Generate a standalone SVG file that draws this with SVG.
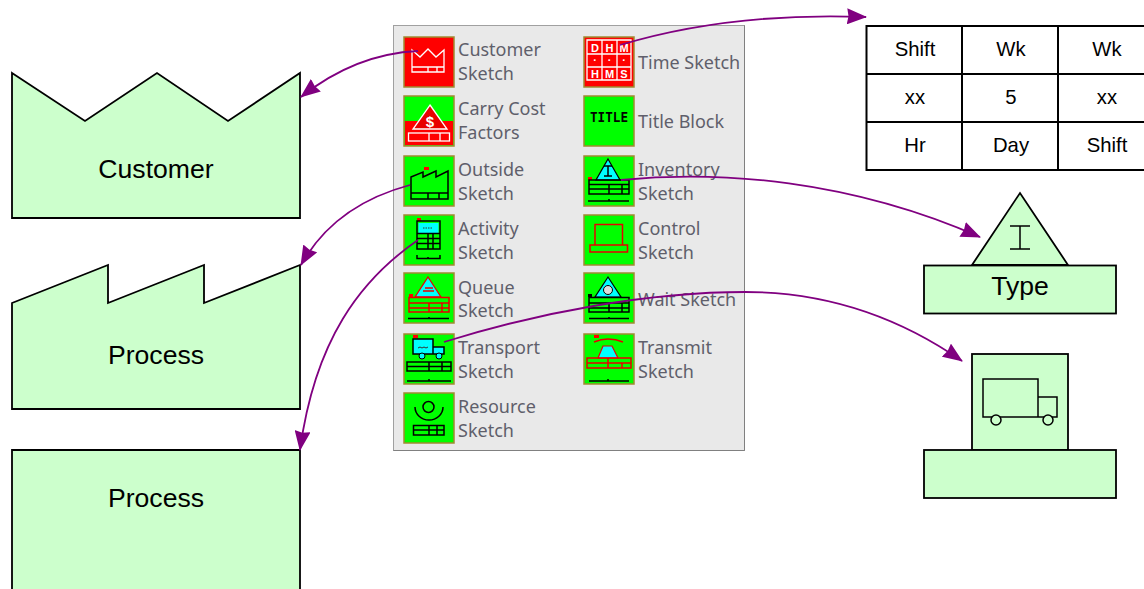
<svg xmlns="http://www.w3.org/2000/svg" width="1144" height="589" viewBox="0 0 1144 589">
<style>
.n{fill:#ccffcc;stroke:#000;stroke-width:1.800}
.l{font-family:"Liberation Sans",Arial,sans-serif;font-size:26.600px;fill:#000;text-anchor:middle}
.c{font-family:"Liberation Sans",Arial,sans-serif;font-size:20.300px;fill:#000;text-anchor:middle}
.t{font-family:"Noto Sans","Open Sans",sans-serif;font-size:18px;fill:#5f5f6b}
.b{stroke:#a08a30;stroke-width:1.500}
.g{fill:#00ff00}.r{fill:#ff0000}
.k{fill:none;stroke:#000;stroke-width:1.500}
.w{fill:none;stroke:#fff;stroke-width:1.300}
.e{fill:none;stroke:#e80000;stroke-width:1.500}
.y{fill:#00ffff}
.a{fill:none;stroke:#800080;stroke-width:1.800;marker-end:url(#ah)}
</style>
<defs>
<marker id="ah" viewBox="0 0 20 16" refX="19" refY="8" markerWidth="20" markerHeight="16" markerUnits="userSpaceOnUse" orient="auto"><path d="M0 0L20 8L0 16L1.500 8Z" fill="#800080"/></marker>
</defs>
<rect id="palette" x="393.500" y="25.500" width="351" height="425" fill="#e9e9e9" stroke="#a0a0a0"/>
<path d="M744.500 25.500V450.500H393.500" fill="none" stroke="#808080"/>

<g id="customer"><path class="n" d="M12 73L85 121L157 73L228 121L300 73V218H12Z"/><text class="l" x="156" y="178">Customer</text></g>
<g id="process-outside"><path class="n" d="M12 303L108 265V303L204 265V303L300 265V409H12Z"/><text class="l" x="156" y="364">Process</text></g>
<g id="process-activity"><path class="n" d="M12 450H300V600H12Z"/><text class="l" x="156" y="507">Process</text></g>

<g id="time-table">
<rect x="866.500" y="26" width="290" height="144" fill="#fff" stroke="#000" stroke-width="2"/>
<path d="M866 74H1144M866 122H1144M962 26V170M1058 26V170" stroke="#000" stroke-width="2" fill="none"/>
<text class="c" x="915" y="56">Shift</text><text class="c" x="1011" y="56">Wk</text><text class="c" x="1107" y="56">Wk</text>
<text class="c" x="915" y="104">xx</text><text class="c" x="1011" y="104">5</text><text class="c" x="1107" y="104">xx</text>
<text class="c" x="915" y="152">Hr</text><text class="c" x="1011" y="152">Day</text><text class="c" x="1107" y="152">Shift</text>
</g>
<g id="inventory-type">
<path class="n" d="M972 265L1020 193L1068 265Z"/>
<path class="k" d="M1010 226H1030M1020 226V249M1010 249H1030"/>
<rect class="n" x="924" y="265.500" width="192" height="48"/>
<text class="l" x="1020" y="295">Type</text>
</g>
<g id="transport-node">
<rect class="n" x="972" y="354" width="96" height="96"/>
<rect class="n" x="924" y="450" width="192" height="48"/>
<path class="k" d="M983 379H1038V417H983ZM1038 397H1057V417H1038Z"/>
<circle cx="996" cy="420" r="5" fill="#ccffcc" stroke="#000" stroke-width="1.500"/>
<circle cx="1048" cy="420" r="5" fill="#ccffcc" stroke="#000" stroke-width="1.500"/>
</g>

<g id="icon-customer"><rect class="b r" x="404" y="37" width="50" height="50"/><path class="w" d="M412 50L420 57L428 49L436 57L444 50V72H412ZM412 67H444M428 67V72M437 67V72"/></g>
<g id="icon-carry"><rect class="b g" x="404" y="96" width="50" height="50"/><rect class="r" x="405" y="121" width="48" height="24"/><path fill="#e80000" stroke="#fff" stroke-width="1.300" d="M430 105L447 129H413Z"/><rect x="408.500" y="133" width="41" height="8" class="w"/><path class="w" d="M429 133V141M440 133V141"/><text x="430" y="127" font-family="Liberation Sans,sans-serif" font-size="15" font-weight="bold" fill="#fff" text-anchor="middle">$</text></g>
<g id="icon-outside"><rect class="b g" x="404" y="156" width="50" height="50"/><rect class="r" x="424" y="167" width="5" height="3"/><path class="k" d="M411 177L423 172V177L436 171V177L448 171V199H411ZM411 193H448M428 193V199M439 193V199"/></g>
<g id="icon-activity"><rect class="b g" x="404" y="215" width="50" height="50"/><rect class="r" x="417" y="218" width="4" height="3"/><rect x="417" y="221" width="23" height="28" fill="none" stroke="#000" stroke-width="1.500"/><rect class="y" x="418.500" y="223" width="20" height="10"/><path d="M423 228H433" stroke="#333" stroke-width="1.200" stroke-dasharray="1.500 1"/><path class="k" d="M417 233.500H440M417 238.500H440M417 243.500H440M428 233.500V249M433 233.500V249M417 255V258.500H440V255M428 257V258.500"/></g>
<g id="icon-queue"><rect class="b g" x="404" y="273" width="50" height="50"/><rect class="r" x="409" y="294" width="4" height="3"/><path class="y" stroke="#e80000" stroke-width="1.300" d="M428 277L441 297H415Z"/><path class="e" d="M423 291H434M425 288H433M409 297.500H449V312H409ZM409 303H449M409 308H449M429 303V312M442 303V312"/><path class="k" d="M408 318.500H449M429 317V318.500"/></g>
<g id="icon-transport"><rect class="b g" x="404" y="334" width="50" height="50"/><rect class="r" x="413" y="335" width="5" height="3"/><path class="y" stroke="#000" stroke-width="1.500" d="M413 339H433V354H413ZM433 347H444V354H433Z"/><path d="M418 348L420 347L422 348L424 347L426 348L428 347" fill="none" stroke="#333"/><circle cx="422" cy="356" r="3" class="y" stroke="#000"/><circle cx="439" cy="356" r="3" class="y" stroke="#000"/><path class="k" d="M407 362H451V371H407ZM407 366.500H451M429 362V371M442 362V371M407 381H451M429 379V381"/></g>
<g id="icon-resource"><rect class="b g" x="404" y="393" width="50" height="50"/><circle cx="428.500" cy="407" r="5.500" class="k"/><path class="k" d="M415 407A14 13 0 0 0 443 407M413.500 425.500H444V435H413.500ZM413.500 430H444M429 425.500V435M437 425.500V435"/></g>

<g id="icon-time"><rect class="b r" x="584" y="37" width="50" height="50"/><path class="w" d="M587 40H631V80H587ZM587 54H631M587 67H631M602 40V80M617 40V80"/><g font-family="Liberation Sans,sans-serif" font-size="11" font-weight="bold" fill="#fff" text-anchor="middle"><text x="595" y="52">D</text><text x="609.500" y="52">H</text><text x="624" y="52">M</text><text x="595" y="64">·</text><text x="609.500" y="64">·</text><text x="624" y="64">·</text><text x="595" y="78">H</text><text x="609.500" y="78">M</text><text x="624" y="78">S</text></g></g>
<g id="icon-title"><rect class="b g" x="584" y="96" width="50" height="50"/><text x="590" y="122" font-family="DejaVu Sans Mono,monospace" font-size="14.500" font-weight="bold" textLength="38" lengthAdjust="spacingAndGlyphs">TITLE</text></g>
<g id="icon-inventory"><rect class="b g" x="584" y="156" width="50" height="50"/><rect class="r" x="588" y="177" width="4" height="3"/><path class="y" stroke="#000" stroke-width="1.200" d="M608 159L620 180H596Z"/><path class="k" d="M604 166H612M608 166V176M604 176H612M589 180H629V194H589ZM589 184.500H629M589 189H629M609 184.500V194M622 184.500V194M588 201H629M609 199V201"/></g>
<g id="icon-control"><rect class="b g" x="584" y="215" width="50" height="50"/><path class="e" d="M595 224.500H622.500V245H595ZM590 245H627.500V252H590Z"/></g>
<g id="icon-wait"><rect class="b g" x="584" y="273" width="50" height="50"/><rect x="588" y="294" width="4" height="3"/><path class="y" stroke="#000" stroke-width="1.200" d="M608 277L621 297H595Z"/><circle cx="608" cy="290" r="4.500" fill="#ddd" stroke="#000"/><path class="k" d="M589 297.500H629V312H589ZM589 303H629M589 308H629M609 303V312M622 303V312M589 318.500H629M609 317V318.500"/></g>
<g id="icon-transmit"><rect class="b g" x="584" y="334" width="50" height="50"/><rect class="r" x="594" y="335" width="5" height="3"/><path class="e" d="M594 342Q601 339 608 339Q616 339 623 342"/><path class="y" stroke="#e80000" stroke-width="1.200" d="M603 346H612L618 358H598Z"/><path class="e" d="M587 358H631V368H587ZM587 363H631M608 358V368M622 363V368"/><path class="k" d="M589 381H629M608 379V381"/></g>

<g id="labels" transform="translate(0 0.300)">
<text class="t" x="458" y="56">Customer</text><text class="t" x="458" y="80">Sketch</text>
<text class="t" x="458" y="115">Carry Cost</text><text class="t" x="458" y="139">Factors</text>
<text class="t" x="458" y="176">Outside</text><text class="t" x="458" y="200">Sketch</text>
<text class="t" x="458" y="235">Activity</text><text class="t" x="458" y="259">Sketch</text>
<text class="t" x="458" y="294">Queue</text><text class="t" x="458" y="317">Sketch</text>
<text class="t" x="458" y="354">Transport</text><text class="t" x="458" y="378">Sketch</text>
<text class="t" x="458" y="413">Resource</text><text class="t" x="458" y="437">Sketch</text>
<text class="t" x="638" y="69">Time Sketch</text>
<text class="t" x="638" y="128">Title Block</text>
<text class="t" x="638" y="176">Inventory</text><text class="t" x="638" y="200">Sketch</text>
<text class="t" x="638" y="235">Control</text><text class="t" x="638" y="259">Sketch</text>
<text class="t" x="638" y="306">Wait Sketch</text>
<text class="t" x="638" y="354">Transmit</text><text class="t" x="638" y="378">Sketch</text>
</g>

<g id="connectors">
<path class="a" d="M418 51C375 53 335 70 301 97"/>
<path class="a" d="M620 45C680 27 760 13 866 17"/>
<path class="a" d="M410 185C365 197 325 222 301 265"/>
<path class="a" d="M418 240C360 280 315 340 300 450"/>
<path class="a" d="M621 180C720 170 850 180 980 237"/>
<path class="a" d="M444 342C540 312 650 292 745 292C830 292 900 318 962 361"/>
</g>
</svg>
